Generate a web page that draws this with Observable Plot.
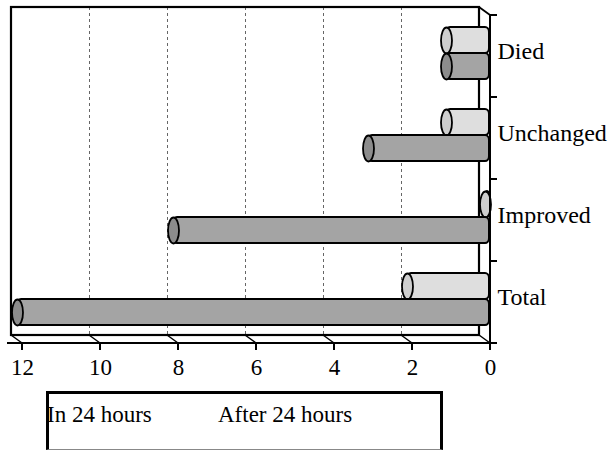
<!DOCTYPE html>
<html>
<head>
<meta charset="utf-8">
<script src="https://cdn.jsdelivr.net/npm/d3@7"></script>
<script src="https://cdn.jsdelivr.net/npm/@observablehq/plot@0.6"></script>
<style>
  html, body { margin: 0; padding: 0; background: #fff; }
  body { font-family: 'Liberation Serif', serif; width: 611px; height: 450px; overflow: hidden; }
  #legend { position: relative; margin-left: 46px; margin-top: 6px; width: 391px; height: 55px;
            border: 3px solid #000; border-bottom: 1px solid #888; font-size: 23px; line-height: 30px; }
  #legend span { position: absolute; top: 6px; white-space: nowrap; color: #000; }
</style>
</head>
<body>
<div id="chart"></div>
<div id="legend"></div>
<script>
// ---- data ----
const categories = ["Died", "Unchanged", "Improved", "Total"];
const seriesNames = ["In 24 hours", "After 24 hours"];
const in24 = [1, 1, 0, 2];
const after24 = [1, 3, 8, 12];
const xTicks = [12, 10, 8, 6, 4, 2, 0];
const gridTicks = [10, 8, 6, 4, 2];

const lightRows = categories.map((c, i) => ({category: c, series: seriesNames[0], value: in24[i]}));
const darkRows = categories.map((c, i) => ({category: c, series: seriesNames[1], value: after24[i]}));

// ---- style constants ----
const DX = 11, DY = 8;          // 3D depth offset
const FONT = "'Liberation Serif', serif";

// ellipse symbol for cylinder caps
const ellipse = (rx, ry) => ({
  draw(ctx) {
    const k = 0.5523;
    ctx.moveTo(rx, 0);
    ctx.bezierCurveTo(rx, k * ry, k * rx, ry, 0, ry);
    ctx.bezierCurveTo(-k * rx, ry, -rx, k * ry, -rx, 0);
    ctx.bezierCurveTo(-rx, -k * ry, -k * rx, -ry, 0, -ry);
    ctx.bezierCurveTo(k * rx, -ry, rx, -k * ry, rx, 0);
    ctx.closePath();
  }
});

function backBox(index, scales, values, dims) {
  const L = dims.marginLeft, R = dims.width - dims.marginRight;
  const T = dims.marginTop, B = dims.height - dims.marginBottom;
  const g = d3.create("svg:g").attr("fill", "none").attr("stroke", "black");
  g.append("rect").attr("x", L - DX).attr("y", T - DY)
    .attr("width", R - L).attr("height", B - T).attr("stroke-width", 2.2);
  return g.node();
}

function frontBox(index, scales, values, dims) {
  const x = scales.x, y = scales.y;
  const R = dims.width - dims.marginRight;
  const T = dims.marginTop, B = dims.height - dims.marginBottom;
  const g = d3.create("svg:g").attr("fill", "none").attr("stroke", "black");
  const line = (x1, y1, x2, y2, w) => g.append("line")
    .attr("x1", x1).attr("y1", y1).attr("x2", x2).attr("y2", y2).attr("stroke-width", w);
  line(R, T, R, B, 2);
  line(R - DX, T - DY, R, T, 1.8);
  categories.forEach(c => line(R, y(c), R + 7, y(c), 2));
  line(R, B, R + 7, B, 2);
  line(x(xTicks[0]) - 15, B, R, B, 2);
  xTicks.forEach(v => {
    line(x(v) - DX, B - DY, x(v), B, 1.5);
    line(x(v), B, x(v), B + 7, 2);
  });
  return g.node();
}

const chart = Plot.plot({
  width: 611,
  height: 385,
  marginLeft: 22,
  marginRight: 121,
  marginTop: 15,
  marginBottom: 42,
  style: {fontFamily: FONT, fontSize: "23px", color: "black", background: "white", overflow: "visible"},
  x: {domain: [0, 12], reverse: true, axis: null},
  y: {domain: categories, padding: 0, axis: null},
  marks: [
    Plot.ruleX(gridTicks, {dx: -DX, dy: -DY, stroke: "#666", strokeWidth: 1, strokeDasharray: "3,3"}),
    backBox,
    Plot.barX(lightRows, {y: "category", x: "value", fill: "#dedede", stroke: "black", strokeWidth: 2,
      insetTop: 12, insetBottom: 44, insetLeft: -5, insetRight: 1, rx: 4, ry: 5}),
    Plot.dot(lightRows, {y: "category", x: "value", dx: -5, dy: -16, symbol: ellipse(5.5, 13),
      fill: "#cecece", stroke: "black", strokeWidth: 1.8}),
    Plot.barX(darkRows, {y: "category", x: "value", fill: "#a4a4a4", stroke: "black", strokeWidth: 2,
      insetTop: 38, insetBottom: 18, insetLeft: -5, insetRight: 1, rx: 4, ry: 5}),
    Plot.dot(darkRows, {y: "category", x: "value", dx: -5, dy: 10, symbol: ellipse(5.5, 13),
      fill: "#8c8c8c", stroke: "black", strokeWidth: 1.8}),
    frontBox,
    Plot.axisX({ticks: xTicks, tickSize: 0, tickPadding: 15, label: null, fontSize: 23, fontFamily: FONT}),
    Plot.axisY({anchor: "right", tickSize: 0, tickPadding: 7, dy: -5, label: null, fontSize: 24, fontFamily: FONT})
  ]
});
document.getElementById("chart").append(chart);

const legend = document.getElementById("legend");
const legendLeft = [-2, 169];
seriesNames.forEach((s, i) => {
  const span = document.createElement("span");
  span.textContent = s;
  span.style.left = legendLeft[i] + "px";
  legend.append(span);
});
</script>
</body>
</html>
